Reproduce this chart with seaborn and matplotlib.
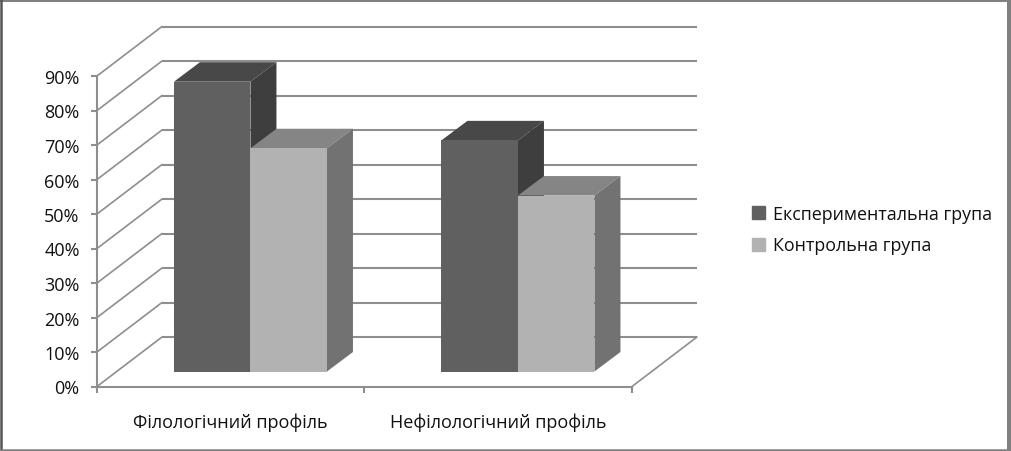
import numpy as np
import pandas as pd
import matplotlib
matplotlib.use("Agg")
import matplotlib.pyplot as plt
import seaborn as sns
from matplotlib.patches import Polygon
from matplotlib.lines import Line2D
from matplotlib.transforms import offset_copy

categories = ["Філологічний профіль", "Нефілологічний профіль"]
groups = ["Експериментальна група", "Контрольна група"]
experimental = [84, 67]
control = [64.7, 51]
y_ticks = [0, 10, 20, 30, 40, 50, 60, 70, 80, 90]

front_colors = ["#606060", "#b2b2b2"]
top_colors = ["#484848", "#858585"]
side_colors = ["#3e3e3e", "#727272"]
grid_color = "#8e8e8e"
W, H = 1012, 452

sns.set_theme(style="white")
plt.rcParams["font.family"] = ["Open Sans", "DejaVu Sans"]

df = pd.DataFrame({
    "profile": categories * 2,
    "group": [groups[0]] * 2 + [groups[1]] * 2,
    "value": experimental + control,
})

fig = plt.figure(figsize=(W / 100, H / 100), dpi=100, facecolor="white")
# axes holds the front of the 3d box, 0% at pixel 387 and 90% at pixel 76.5
ax = fig.add_axes([97 / W, (H - 387.5) / H, 535 / W, 310.5 / H])
sns.barplot(data=df, x="profile", y="value", hue="group", hue_order=groups,
            palette=front_colors, width=0.572, gap=0, saturation=1,
            linewidth=0, legend=False, ax=ax)
ax.set_xlim(-0.5, 1.5)
ax.set_ylim(0, 90)


def shifted(dx, dy):
    # pixels, y pointing up
    return offset_copy(ax.transData, fig=fig, x=dx, y=dy, units="dots")


back = shifted(65, 49.5)
for v in y_ticks:
    ax.plot([-0.5, 1.5], [v, v], transform=back, color=grid_color, lw=1.5,
            clip_on=False, zorder=1, solid_capstyle="butt")
    # diagonal on the left wall
    p0 = ax.transData.transform((-0.5, v))
    fig.add_artist(Line2D([p0[0] / W, (p0[0] + 65) / W], [p0[1] / H, (p0[1] + 49.5) / H],
                          color=grid_color, lw=1.2, zorder=1))
# floor edge on the right
p0 = ax.transData.transform((1.5, 0))
fig.add_artist(Line2D([p0[0] / W, (p0[0] + 65) / W], [p0[1] / H, (p0[1] + 49.5) / H],
                      color=grid_color, lw=1.2, zorder=1))

# bars: move the fronts into the box, then add top and side faces
front_shift = (19.7, 15)
depth = (26, 19.5)
bars = list(ax.patches)
for i, bar in enumerate(bars):
    color_i = i // 2
    x0, y0 = bar.get_x(), bar.get_y()
    x1, y1 = x0 + bar.get_width(), y0 + bar.get_height()
    a = ax.transData.transform((x0, y0)) + front_shift
    b = ax.transData.transform((x1, y1)) + front_shift
    dx, dy = depth
    top = Polygon([(a[0], b[1]), (b[0], b[1]), (b[0] + dx, b[1] + dy), (a[0] + dx, b[1] + dy)],
                  closed=True, transform=None, color=top_colors[color_i], lw=0, zorder=3 + i)
    side = Polygon([(b[0], a[1]), (b[0], b[1]), (b[0] + dx, b[1] + dy), (b[0] + dx, a[1] + dy)],
                   closed=True, transform=None, color=side_colors[color_i], lw=0, zorder=3 + i)
    ax.add_artist(top)
    ax.add_artist(side)
    top.set_clip_on(False)
    side.set_clip_on(False)
    bar.set_transform(shifted(*front_shift))
    bar.set_zorder(4 + i)
    bar.set_clip_on(False)

for s in ["top", "right"]:
    ax.spines[s].set_visible(False)
for s in ["left", "bottom"]:
    ax.spines[s].set_color(grid_color)
    ax.spines[s].set_linewidth(1.5)
ax.set_xlabel("")
ax.set_ylabel("")
ax.set_yticks(y_ticks)
ax.set_yticklabels([f"{v}%" for v in y_ticks])
ax.set_xticks([-0.5, 0.5, 1.5], minor=False)
ax.set_xticklabels([])
ax.tick_params(axis="both", length=4.5, width=1.5, color=grid_color, left=True, bottom=True)
ax.tick_params(axis="y", labelsize=13, labelcolor="#111111", pad=8)
ax.patch.set_alpha(0)

for pos, name in zip([0, 1], categories):
    ax.annotate(name, (pos, 0), xytext=(0, -35), textcoords="offset pixels", ha="center",
                va="center", fontsize=13, color="#111111", annotation_clip=False)

# legend
handles = [plt.Rectangle((0, 0), 1, 1, color=c) for c in front_colors]
fig.legend(handles, groups, loc="center left", bbox_to_anchor=(743.5 / W, 1 - 230.5 / H),
           frameon=False, fontsize=12.9, handlelength=0.72, handleheight=0.72,
           handletextpad=0.42, labelspacing=0.78, labelcolor="#111111", borderpad=0)

# picture frame, darker on the left, wider on the right
for xs, ys, col, lw in [([0, 1], [0.998, 0.998], "#808080", 2.2),
                        ([0.001, 0.001], [0, 1], "#555555", 1.8),
                        ([0.997, 0.997], [0, 1], "#808080", 3.6),
                        ([0, 1], [0.002, 0.002], "#808080", 1.8)]:
    fig.add_artist(Line2D(xs, ys, color=col, lw=lw))
fig.savefig("out.png", dpi=100)
